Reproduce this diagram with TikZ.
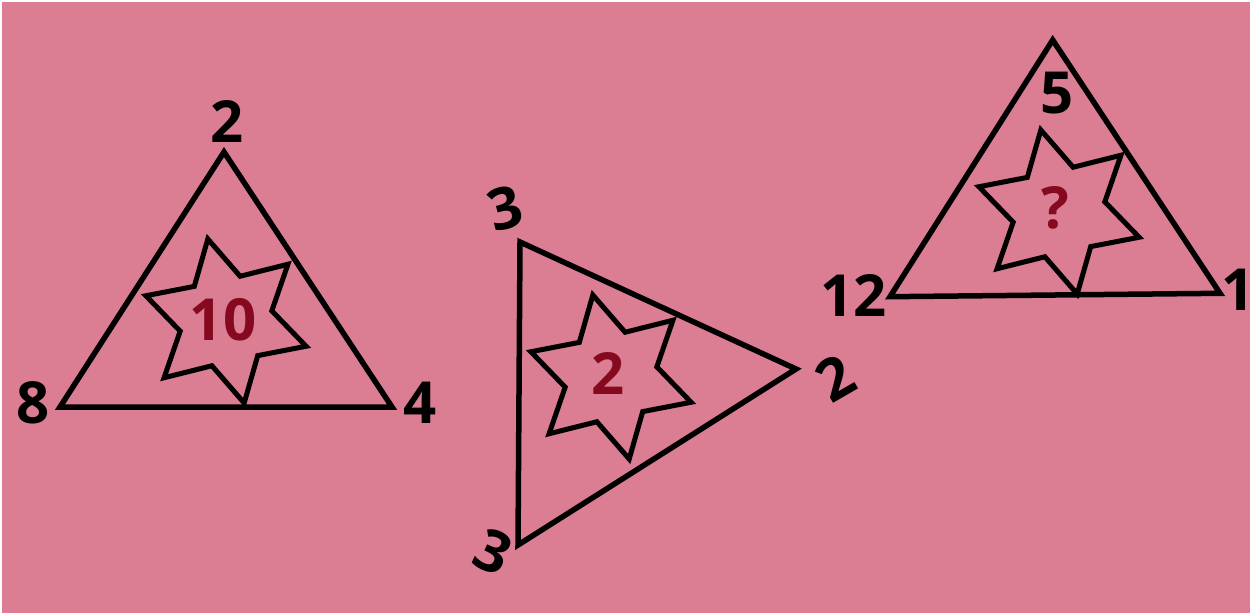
\documentclass[tikz,border=0pt]{standalone}
\usepackage{fontspec}
\setmainfont{Open Sans}
\usetikzlibrary{shapes.geometric}
\definecolor{bgpink}{HTML}{DB7E93}
\definecolor{numred}{HTML}{85091F}
\tikzset{
  tri/.style={draw=black, line width=5.5pt, line join=miter},
  starbox/.style={star, star points=6, star point ratio=1.79, minimum size=168pt,
    inner sep=0pt, draw=black, line width=5pt, line join=miter, shape border rotate=12.5},
  lbl/.style={font=\fontsize{58}{62}\selectfont\bfseries, text=black, inner sep=0pt},
  mid/.style={font=\fontsize{58}{62}\selectfont\bfseries, text=numred, inner sep=0pt}
}
\begin{document}
\begin{tikzpicture}[x=1pt,y=-1pt]
\useasboundingbox (0,0) rectangle (1252,615);
\fill[white] (0,0) rectangle (1252,615);
\fill[bgpink] (2,2) rectangle (1250,613);
% triangle 1
\coordinate (a1) at (224,152);
\coordinate (b1) at (60,407);
\coordinate (c1) at (392,407);
\node[starbox] (s1) at (226,321) {};
\draw[tri] (a1) -- (b1) -- (c1) -- cycle;
\node[mid] (m1) at (223,320) {10};
\node[lbl] (l1a) at (226.7,121.7) {2};
\node[lbl] (l1b) at (33,403) {8};
\node[lbl] (l1c) at (420,403) {4};
% triangle 2
\coordinate (a2) at (520,242);
\coordinate (b2) at (796,369);
\coordinate (c2) at (518,545);
\node[starbox] (s2) at (611,377) {};
\draw[tri] (a2) -- (b2) -- (c2) -- cycle;
\node[mid] (m2) at (608,373) {2};
\node[lbl, rotate=15] (l2a) at (505,208) {3};
\node[lbl, rotate=30] (l2b) at (835,378) {2};
\node[lbl, rotate=-25] (l2c) at (493,552) {3};
% triangle 3
\coordinate (a3) at (1052.7,40);
\coordinate (b3) at (890,296.7);
\coordinate (c3) at (1220,293.3);
\node[starbox] (s3) at (1059,212) {};
\draw[tri] (a3) -- (b3) -- (c3) -- cycle;
\node[mid] (m3) at (1055,208) {?};
\node[lbl] (l3a) at (1056.7,93.3) {5};
\node[lbl] (l3b) at (853.3,295) {12};
\node[lbl] (l3c) at (1238.3,290) {1};
\end{tikzpicture}
\end{document}
